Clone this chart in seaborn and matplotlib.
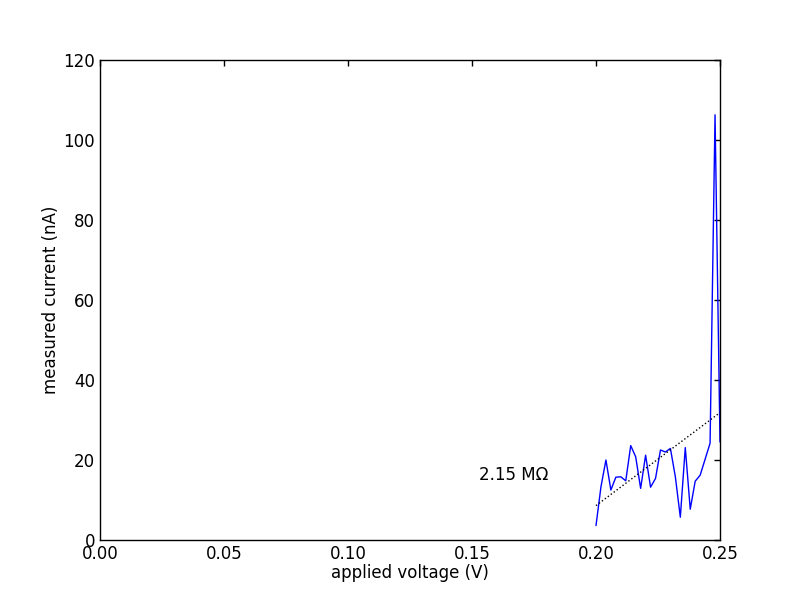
import numpy as np
import pandas as pd
import seaborn as sns
from matplotlib import pyplot as plt

# applied voltage (V) and measured current (nA)
voltage = [0.200, 0.202, 0.204, 0.206, 0.208, 0.210, 0.212, 0.214, 0.216, 0.218,
           0.220, 0.222, 0.224, 0.226, 0.228, 0.230, 0.232, 0.234, 0.236, 0.238,
           0.240, 0.242, 0.244, 0.246, 0.248, 0.250]
current = [3.6, 13.3, 20.0, 12.5, 15.7, 15.8, 14.8, 23.6, 20.8, 12.9,
           21.2, 13.2, 15.4, 22.5, 22.0, 22.9, 15.8, 5.7, 23.1, 7.7,
           14.7, 16.2, 20.2, 24.2, 106.3, 24.5]

# linear fit shown as dotted line (current in nA = slope * V + offset)
fit_slope = 465.0
fit_offset = -84.4
fit_label = "2.15 M\u03a9"

df = pd.DataFrame({"voltage": voltage, "current": current})
fit_x = np.array([voltage[0], voltage[-1]])
fit_df = pd.DataFrame({"voltage": fit_x, "current": fit_slope * fit_x + fit_offset})

sns.set_style("white")
plt.rcParams["font.family"] = ["DejaVu Sans"]
plt.rcParams.update({
    "xtick.direction": "in", "ytick.direction": "in",
    "xtick.top": True, "ytick.right": True,
    "xtick.major.size": 4, "ytick.major.size": 4,
    "axes.edgecolor": "black", "axes.linewidth": 1.0,
    "text.color": "black", "axes.labelcolor": "black",
    "xtick.color": "black", "ytick.color": "black",
})

fig = plt.figure(figsize=(8, 6), dpi=100)
ax = fig.add_axes([0.125, 0.1, 0.775, 0.8])

sns.lineplot(data=df, x="voltage", y="current", color="#0000ff", lw=1, ax=ax)
sns.lineplot(data=fit_df, x="voltage", y="current", color="black", lw=1,
             linestyle=":", ax=ax)
ax.text(0.153, 16.3, fit_label, fontsize=12, va="center", ha="left")

ax.set_xlim(0, 0.25)
ax.set_ylim(0, 120)
ax.set_xticks(np.arange(0, 0.2501, 0.05))
ax.set_xticklabels([f"{t:.2f}" for t in np.arange(0, 0.2501, 0.05)])
ax.set_yticks(np.arange(0, 121, 20))
ax.tick_params(labelsize=12, width=1)
ax.set_xlabel("applied voltage (V)", fontsize=12, labelpad=0.5)
ax.set_ylabel("measured current (nA)", fontsize=12, labelpad=2.5)

fig.savefig("out.png", dpi=100)
